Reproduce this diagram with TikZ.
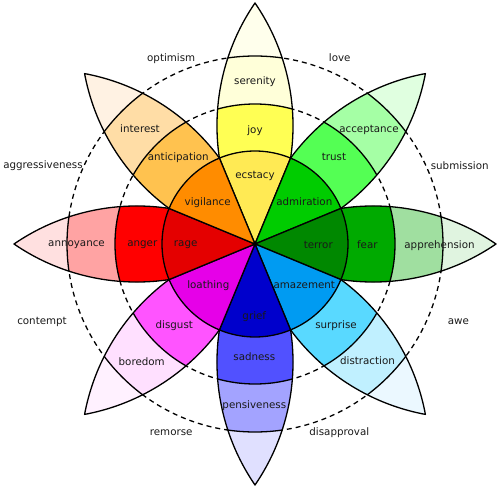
\documentclass[tikz,border=0pt]{standalone}
\usepackage{fontspec}
\setmainfont{DejaVu Sans}
\definecolor{jA}{HTML}{FFEA54}\definecolor{jB}{HTML}{FFFF54}\definecolor{jC}{HTML}{FFFFD9}\definecolor{jD}{HTML}{FFFFEC}
\definecolor{tA}{HTML}{00CC00}\definecolor{tB}{HTML}{54FF54}\definecolor{tC}{HTML}{A5FFA5}\definecolor{tD}{HTML}{E0FFE0}
\definecolor{fA}{HTML}{008800}\definecolor{fB}{HTML}{00AA00}\definecolor{fC}{HTML}{A0DFA0}\definecolor{fD}{HTML}{E0F4E0}
\definecolor{sA}{HTML}{009BF2}\definecolor{sB}{HTML}{59D9FF}\definecolor{sC}{HTML}{C0F0FF}\definecolor{sD}{HTML}{EBF8FF}
\definecolor{gA}{HTML}{0000CC}\definecolor{gB}{HTML}{5151FF}\definecolor{gC}{HTML}{A3A3FF}\definecolor{gD}{HTML}{E0E0FF}
\definecolor{dA}{HTML}{E600E8}\definecolor{dB}{HTML}{FF54FF}\definecolor{dC}{HTML}{FFE0FF}\definecolor{dD}{HTML}{FFF1FF}
\definecolor{aA}{HTML}{E40000}\definecolor{aB}{HTML}{FF0000}\definecolor{aC}{HTML}{FFA3A3}\definecolor{aD}{HTML}{FFE0E0}
\definecolor{vA}{HTML}{FF8C00}\definecolor{vB}{HTML}{FFC24F}\definecolor{vC}{HTML}{FFDDA6}\definecolor{vD}{HTML}{FFF2E3}
\tikzset{
  petalshape/.style={insert path={(241,0) arc[start angle=55.59, end angle=124.41, radius=217.3] arc[start angle=235.59, end angle=304.41, radius=217.3] -- cycle}},
  edge/.style={draw=black, line width=1.3pt, line join=round},
  dashring/.style={draw=black, line width=1.3pt, dash pattern=on 5pt off 4pt},
  lbl/.style={font=\fontsize{10.3}{12}\selectfont, text=black!90, inner sep=0pt, text height=0.82em, text depth=0.18em, anchor=center}
}
\begin{document}
\begin{tikzpicture}[x=1pt,y=1pt]
\useasboundingbox (-255,-244) rectangle (244,244);
\draw[dashring] (0,0) circle (140);
\draw[dashring] (0,0) circle (188);
\foreach \a/\ca/\cb/\cc/\cd in {90/jA/jB/jC/jD,45/tA/tB/tC/tD,0/fA/fB/fC/fD,-45/sA/sB/sC/sD,-90/gA/gB/gC/gD,-135/dA/dB/dC/dD,180/aA/aB/aC/aD,135/vA/vB/vC/vD}{
  \begin{scope}[rotate=\a]
    \fill[\cd, petalshape];
    \begin{scope}
      \clip[petalshape];
      \fill[\cc] (0,0) circle (188);
      \fill[\cb] (0,0) circle (140);
      \draw[edge] (0,0) circle (188);
      \draw[edge] (0,0) circle (140);
    \end{scope}
    \path[edge, petalshape];
  \end{scope}
}
\foreach \a/\ca in {90/jA,45/tA,0/fA,-45/sA,-90/gA,-135/dA,180/aA,135/vA}{
  \fill[\ca] (0,0) -- (\a-22.5:93) arc[start angle=\a-22.5, end angle=\a+22.5, radius=93] -- cycle;
  \draw[edge] (0,0) -- (\a-22.5:93) arc[start angle=\a-22.5, end angle=\a+22.5, radius=93] -- cycle;
}
% inner ring
\node[lbl] (ecstacy) at (0,69) {ecstacy};
\node[lbl] (admiration) at (49.3,41.3) {admiration};
\node[lbl] (terror) at (63.3,-1.7) {terror};
\node[lbl] (amazement) at (49.3,-41.7) {amazement};
\node[lbl] (grief) at (-0.7,-72) {grief};
\node[lbl] (loathing) at (-46.7,-41.7) {loathing};
\node[lbl] (rage) at (-69.3,0.7) {rage};
\node[lbl] (vigilance) at (-47.3,41.3) {vigilance};
% middle ring
\node[lbl] (joy) at (0,114) {joy};
\node[lbl] (trust) at (79,86.7) {trust};
\node[lbl] (fear) at (112.3,-1.7) {fear};
\node[lbl] (surprise) at (81,-81) {surprise};
\node[lbl] (sadness) at (-0.7,-113.7) {sadness};
\node[lbl] (disgust) at (-80.7,-81) {disgust};
\node[lbl] (anger) at (-112.7,0.7) {anger};
\node[lbl] (anticipation) at (-76.7,86.7) {anticipation};
% outer ring
\node[lbl] (serenity) at (0,162.3) {serenity};
\node[lbl] (acceptance) at (114,114.7) {acceptance};
\node[lbl] (apprehension) at (184.5,-1.7) {apprehension};
\node[lbl] (distraction) at (112.5,-117.7) {distraction};
\node[lbl] (pensiveness) at (-0.7,-161) {pensiveness};
\node[lbl] (boredom) at (-113.3,-118) {boredom};
\node[lbl] (annoyance) at (-178.5,0.7) {annoyance};
\node[lbl] (interest) at (-115,115) {interest};
% dyads
\node[lbl] (optimism) at (-83.8,185.7) {optimism};
\node[lbl] (love) at (84.7,185.7) {love};
\node[lbl] (submission) at (204.7,78) {submission};
\node[lbl] (awe) at (203.3,-77) {awe};
\node[lbl] (disapproval) at (84.3,-188.3) {disapproval};
\node[lbl] (remorse) at (-83.8,-188.3) {remorse};
\node[lbl] (contempt) at (-213,-77) {contempt};
\node[lbl] (aggressiveness) at (-212,79) {aggressiveness};
\end{tikzpicture}
\end{document}
